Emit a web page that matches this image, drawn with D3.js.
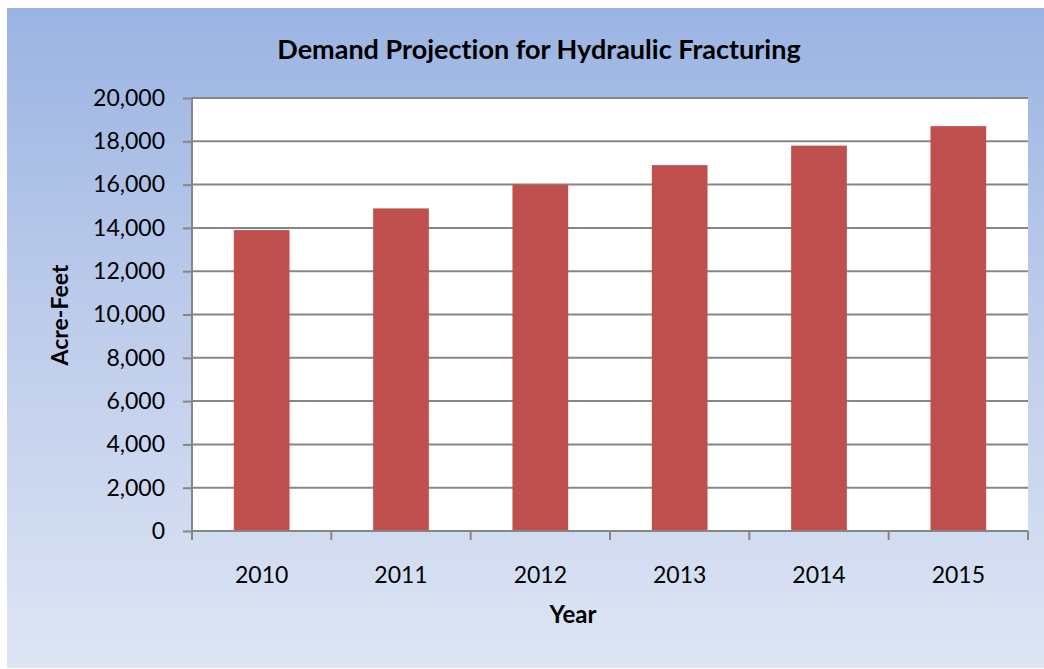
<!DOCTYPE html>
<html>
<head>
<meta charset="utf-8">
<script src="https://cdn.jsdelivr.net/npm/d3@7"></script>
<style>
  html, body { margin: 0; padding: 0; background: #fff; }
  text { font-family: Lato, "Open Sans", sans-serif; fill: #000; font-variant-ligatures: none; }
</style>
</head>
<body>
<div id="chart"></div>
<script>
const years = ["2010", "2011", "2012", "2013", "2014", "2015"];
const acreFeet = [13900, 14900, 16000, 16900, 17800, 18700];
const yTicks = [0, 2000, 4000, 6000, 8000, 10000, 12000, 14000, 16000, 18000, 20000];

const W = 1044, H = 669;
const plot = { left: 192, top: 98, right: 1028, bottom: 531 };

const svg = d3.select("#chart")
  .append("svg")
  .attr("width", W)
  .attr("height", H);

const grad = svg.append("defs").append("linearGradient")
  .attr("id", "bg")
  .attr("x1", 0).attr("y1", 0).attr("x2", 0).attr("y2", 1);
grad.append("stop").attr("offset", "0%").attr("stop-color", "#9ab4e2");
grad.append("stop").attr("offset", "45%").attr("stop-color", "#bccbeb");
grad.append("stop").attr("offset", "100%").attr("stop-color", "#dee5f4");

svg.append("rect")
  .attr("x", 7).attr("y", 8)
  .attr("width", W - 7).attr("height", H - 9)
  .attr("fill", "url(#bg)");

const x = d3.scaleBand()
  .domain(years)
  .range([plot.left, plot.right])
  .paddingInner(0.6)
  .paddingOuter(0.3);

const y = d3.scaleLinear()
  .domain([0, 20000])
  .range([plot.bottom, plot.top]);

svg.append("rect")
  .attr("x", plot.left).attr("y", plot.top)
  .attr("width", plot.right - plot.left)
  .attr("height", plot.bottom - plot.top)
  .attr("fill", "#fff");

// left ticks + labels
const yAxis = svg.append("g")
  .attr("transform", `translate(${plot.left},0)`)
  .call(d3.axisLeft(y)
    .tickValues(yTicks)
    .tickSize(9)
    .tickPadding(18)
    .tickFormat(d3.format(",")));
yAxis.select(".domain").remove();
yAxis.selectAll(".tick line").attr("stroke", "#868686").attr("stroke-width", 2);
yAxis.selectAll(".tick text").style("font-size", "23px");

// gridlines
svg.append("g")
  .selectAll("line")
  .data(yTicks.filter(d => d > 0))
  .join("line")
  .attr("x1", plot.left).attr("x2", plot.right)
  .attr("y1", d => y(d)).attr("y2", d => y(d))
  .attr("stroke", "#868686")
  .attr("stroke-width", 2);

svg.selectAll(".bar")
  .data(years)
  .join("rect")
  .attr("class", "bar")
  .attr("x", d => x(d))
  .attr("width", x.bandwidth())
  .attr("y", (d, i) => y(acreFeet[i]))
  .attr("height", (d, i) => y(0) - y(acreFeet[i]))
  .attr("fill", "#c0504d");

// x axis: ticks at category boundaries
const bounds = d3.range(years.length + 1).map(i => plot.left + i * (plot.right - plot.left) / years.length);
svg.append("g")
  .selectAll("line")
  .data(bounds)
  .join("line")
  .attr("x1", d => d).attr("x2", d => d)
  .attr("y1", plot.bottom).attr("y2", plot.bottom + 9)
  .attr("stroke", "#868686")
  .attr("stroke-width", 2);

svg.append("line")
  .attr("x1", plot.left).attr("x2", plot.right)
  .attr("y1", plot.bottom).attr("y2", plot.bottom)
  .attr("stroke", "#868686").attr("stroke-width", 2);
svg.append("line")
  .attr("x1", plot.left).attr("x2", plot.left)
  .attr("y1", plot.top).attr("y2", plot.bottom + 9)
  .attr("stroke", "#868686").attr("stroke-width", 2);

svg.append("g")
  .selectAll("text")
  .data(years)
  .join("text")
  .attr("x", d => x(d) + x.bandwidth() / 2)
  .attr("y", 583)
  .attr("text-anchor", "middle")
  .style("font-size", "23px")
  .text(d => d);

svg.append("text")
  .attr("x", 539).attr("y", 59)
  .attr("text-anchor", "middle")
  .style("font-size", "27px")
  .style("font-weight", "bold")
  .text("Demand Projection for Hydraulic Fracturing");

svg.append("text")
  .attr("x", 573).attr("y", 623)
  .attr("text-anchor", "middle")
  .style("font-size", "24px")
  .style("font-weight", "bold")
  .text("Year");

svg.append("text")
  .attr("transform", "translate(68,315) rotate(-90)")
  .attr("text-anchor", "middle")
  .style("font-size", "23px")
  .style("font-weight", "bold")
  .text("Acre-Feet");
</script>
</body>
</html>
